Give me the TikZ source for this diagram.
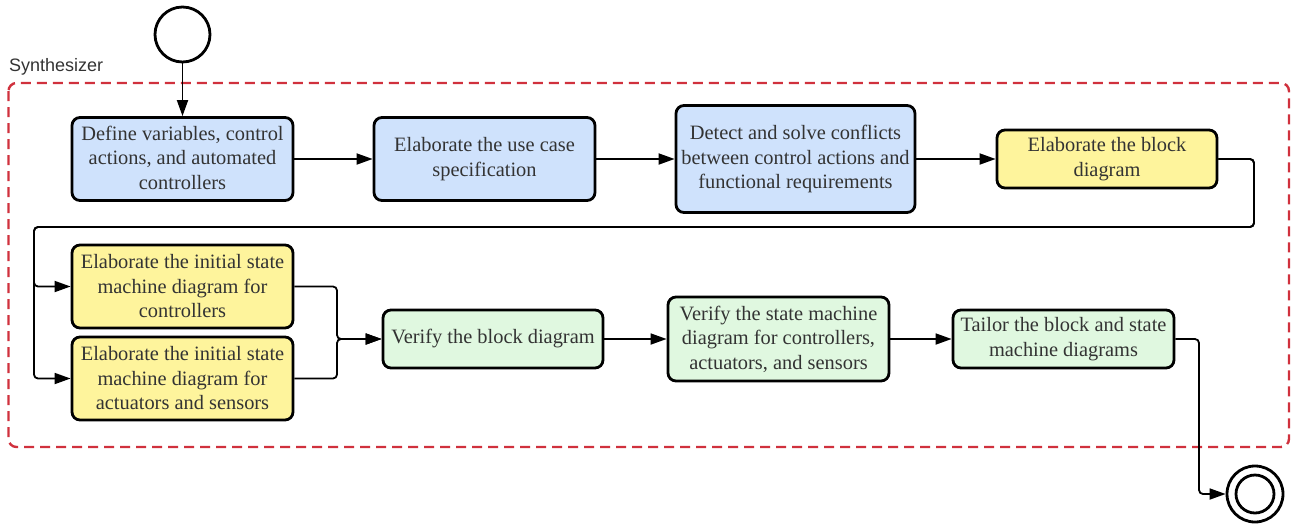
\documentclass[tikz,border=0pt]{standalone}
\usepackage{fontspec}
\setmainfont{Liberation Serif}
\newfontfamily\labelfont{Liberation Sans}
\usetikzlibrary{arrows.meta}

\definecolor{txt}{HTML}{333333}
\definecolor{bluefill}{HTML}{CFE2FC}
\definecolor{yellowfill}{HTML}{FEF49C}
\definecolor{greenfill}{HTML}{E0F8E0}
\definecolor{framered}{HTML}{D0313D}

\begin{document}
\begin{tikzpicture}[x=1pt, y=-1pt,
  task/.style={draw=black, line width=2.8pt, rounded corners=8pt, align=center,
    text=txt, font=\fontsize{20.4}{24.5}\selectfont, inner sep=0pt},
  bluetask/.style={task, fill=bluefill},
  yellowtask/.style={task, fill=yellowfill},
  greentask/.style={task, fill=greenfill},
  flow/.style={draw=black, line width=1.8pt, rounded corners=4pt,
    -{Triangle[length=16pt, width=11pt]}},
  terminal/.style={circle, draw=black, line width=2.8pt, inner sep=0pt},
  grouplabel/.style={font=\labelfont\fontsize{18}{20}\selectfont, text=txt, inner sep=0pt},
]
\useasboundingbox (0,0) rectangle (1291,523);

% swimlane frame
\draw[framered, line width=2.4pt, dash pattern=on 10pt off 6pt, rounded corners=8pt]
  (8.5,83) rectangle (1289,447);
\node[grouplabel, anchor=base west] (lane) at (9,71) {Synthesizer};

% start and end
\node[terminal, minimum size=55pt] (start) at (182.5,34.5) {};
\node[terminal, minimum size=56pt] (endouter) at (1255,494) {};
\node[terminal, minimum size=38pt] (endinner) at (endouter) {};

% activities
\node[bluetask, minimum width=221pt, minimum height=83pt] (n1) at (182.5,159)
  {Define variables, control\\actions, and automated\\controllers\vspace{3pt}};
\node[bluetask, minimum width=221pt, minimum height=83pt] (n2) at (484.5,159)
  {Elaborate the use case\\specification};
\node[bluetask, minimum width=239pt, minimum height=107pt] (n3) at (795.5,159)
  {Detect and solve conflicts\\between control actions and\\functional requirements};
\node[yellowtask, minimum width=220pt, minimum height=58pt] (n4) at (1107,159)
  {Elaborate the block\\diagram};
\node[yellowtask, minimum width=221pt, minimum height=83pt] (n5) at (182.5,286.5)
  {Elaborate the initial state\\machine diagram for\\controllers};
\node[yellowtask, minimum width=221pt, minimum height=83pt] (n6) at (182.5,378.5)
  {Elaborate the initial state\\machine diagram for\\actuators and sensors};
\node[greentask, minimum width=220pt, minimum height=58pt] (n7) at (493,339)
  {Verify the block diagram};
\node[greentask, minimum width=221pt, minimum height=84pt] (n8) at (778.5,339)
  {Verify the state machine\\diagram for controllers,\\actuators, and sensors};
\node[greentask, minimum width=221pt, minimum height=58pt] (n9) at (1063.5,339)
  {Tailor the block and state\\machine diagrams};

% routing points
\coordinate (loopR) at (1254,227);
\coordinate (loopL) at (34,227);
\coordinate (merge) at (337,339);
\coordinate (drop) at (1199,494);

% connectors
\draw[flow] (start) -- (n1);
\draw[flow] (n1) -- (n2);
\draw[flow] (n2) -- (n3);
\draw[flow] (n3) -- (n4);
\draw[flow] (n4.east) -| (loopR) -- (loopL) |- (n5.west);
\draw[flow] (n4.east) -| (loopR) -- (loopL) |- (n6.west);
\draw[flow] (n5.east) -| (merge) -- (n7.west);
\draw[flow] (n6.east) -| (merge) -- (n7.west);
\draw[flow] (n7) -- (n8);
\draw[flow] (n8) -- (n9);
\draw[flow] (n9.east) -| (drop) -- (endouter.west);
\end{tikzpicture}
\end{document}
